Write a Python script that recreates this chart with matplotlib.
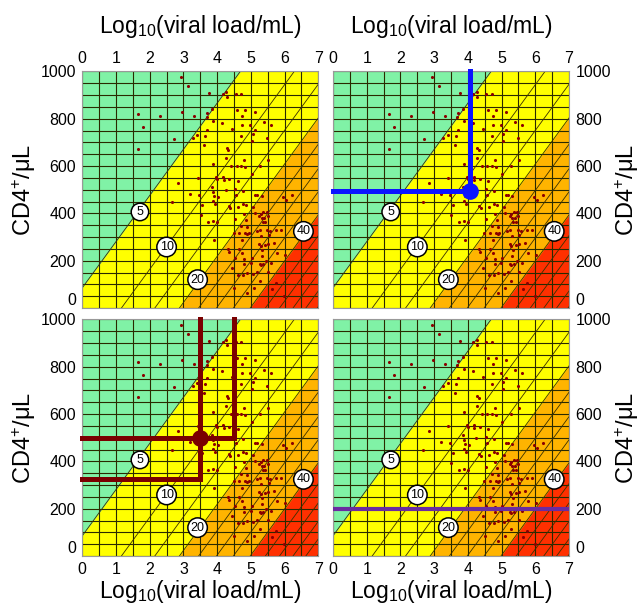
import numpy as np
import matplotlib.pyplot as plt

plt.rcParams['font.family'] = ['Liberation Sans', 'DejaVu Sans']
plt.rcParams['mathtext.default'] = 'regular'

# ------------ DATA ------------

# patients (log10 viral load, CD4 count), same cohort in every panel
LOG_VL = [2.93, 3.14, 3.77, 4.16, 4.28, 4.55, 4.70, 4.26, 1.65, 2.31, 2.97, 3.32,
          3.71, 3.69, 3.84, 1.80, 1.65, 2.71, 3.27, 3.40, 3.71, 3.64, 3.62, 3.89,
          4.14, 4.44, 4.60, 4.83, 5.12, 4.74, 4.75, 4.70, 4.97, 5.05, 5.12, 5.39,
          5.61, 5.48, 4.28, 4.32, 4.26, 4.42, 4.58, 4.71, 4.80, 4.83, 5.04, 5.52,
          5.27, 5.02, 3.87, 3.97, 4.00, 4.17, 4.19, 4.36, 4.61, 3.42, 2.85, 2.66,
          3.20, 3.46, 3.84, 3.89, 3.92, 4.02, 3.87, 3.93, 3.55, 3.51, 3.73, 3.87,
          4.00, 3.91, 4.25, 4.53, 4.57, 4.76, 4.34, 4.39, 4.62, 4.78, 4.85, 5.13,
          5.19, 5.32, 4.81, 5.06, 5.11, 5.29, 5.37, 5.24, 5.32, 5.40, 5.47, 5.50,
          5.35, 5.43, 5.26, 5.31, 5.17, 5.49, 5.57, 5.53, 5.74, 5.90, 5.96, 6.04,
          6.22, 4.54, 4.85, 4.49, 4.65, 4.72, 4.82, 4.88, 4.93, 4.88, 5.25, 5.29,
          5.33, 5.43, 5.52, 5.68, 5.79, 5.32, 5.26, 5.29, 5.36, 5.46, 5.61, 5.02,
          4.99, 4.79, 4.81, 4.74, 4.66, 4.32, 4.36, 4.45, 4.62, 4.78, 4.89, 5.07,
          5.19, 5.51, 4.50, 4.89, 5.10, 5.62, 5.99, 4.54, 4.75, 6.01, 5.74, 5.27]
CD4 = [976, 937, 910, 904, 890, 906, 906, 914, 820, 813, 828, 813,
       824, 806, 841, 763, 672, 714, 717, 730, 751, 728, 689, 792,
       782, 755, 835, 835, 828, 810, 773, 725, 775, 735, 751, 785,
       772, 718, 677, 669, 634, 601, 601, 599, 627, 596, 707, 624,
       599, 568, 610, 554, 546, 554, 539, 545, 538, 548, 527, 446,
       480, 477, 510, 490, 475, 468, 451, 439, 435, 392, 365, 368,
       362, 289, 497, 503, 479, 493, 430, 423, 427, 439, 434, 476,
       476, 475, 399, 425, 401, 399, 404, 389, 380, 379, 404, 390,
       362, 362, 331, 303, 324, 328, 324, 308, 331, 328, 468, 458,
       477, 376, 373, 317, 318, 345, 318, 314, 317, 342, 272, 261,
       246, 265, 272, 275, 232, 218, 187, 180, 187, 200, 190, 211,
       190, 207, 185, 232, 251, 249, 235, 169, 141, 141, 148, 144,
       152, 154, 85, 63, 85, 80, 49, 210, 289, 225, 106, 113]

# risk contours: parallel lines, given by the log10 VL where each one meets CD4 = 0
CONTOUR_SLOPE = 195          # CD4 per log10 unit along a contour
CONTOUR_X0 = [-0.44, 1.16, 2.15, 2.88, 3.45, 3.98, 4.48, 4.98,
              5.43, 5.85, 6.25, 6.63, 6.97]
BOUND_GREEN, BOUND_ORANGE, BOUND_RED = 0, 3, 7   # 5 %, 20 %, 40 % contours

LABEL_TEXT = ['5', '10', '20', '40']
LABEL_VL = [1.71, 2.50, 3.42, 6.56]
LABEL_CD4 = [406, 258, 120, 324]

# threshold overlays
BLUE_CORNER = (4.05, 495)
RED_CORNERS = [(4.5, 500), (3.5, 325)]
RED_POINT = (3.5, 500)
PURPLE_CD4 = 200

X_TICKS = list(range(0, 8))
Y_TICKS = list(range(0, 1001, 200))

# ------------ STYLE ------------

C_GREEN = '#80f2a6'
C_YELLOW = '#ffff00'
C_ORANGE = '#ffb400'
C_RED = '#ff3000'
C_DOT = '#8b0000'
XLABEL = r'Log$_{10}$(viral load/mL)'
YLABEL = r'CD4$^{+}$/μL'


def contour_y(xs, x0):
    return CONTOUR_SLOPE * (xs - x0)


def draw_base(ax, top, right):
    xs = np.linspace(0, 7, 50)
    ax.set_facecolor(C_RED)
    ax.fill_between(xs, contour_y(xs, CONTOUR_X0[BOUND_RED]), 1000, color=C_ORANGE, lw=0)
    ax.fill_between(xs, contour_y(xs, CONTOUR_X0[BOUND_ORANGE]), 1000, color=C_YELLOW, lw=0)
    ax.fill_between(xs, contour_y(xs, CONTOUR_X0[BOUND_GREEN]), 1000, color=C_GREEN, lw=0)

    for x0 in CONTOUR_X0:
        ax.axline((x0, 0), slope=CONTOUR_SLOPE, color='#3a3000', lw=0.6, zorder=2)

    ax.scatter(LOG_VL, CD4, s=5, color=C_DOT, lw=0, zorder=3)

    for txt, lx, ly in zip(LABEL_TEXT, LABEL_VL, LABEL_CD4):
        ax.text(lx, ly, txt, ha='center', va='center', fontsize=9, zorder=6,
                bbox=dict(boxstyle='circle,pad=0.22', fc='white', ec='black', lw=1.1))

    ax.set_xlim(0, 7)
    ax.set_ylim(0, 1000)
    ax.set_xticks(X_TICKS)
    ax.set_yticks(Y_TICKS)
    ax.set_xticks(np.arange(0, 7.01, 0.5), minor=True)
    ax.set_yticks(np.arange(0, 1001, 50), minor=True)
    ax.grid(which='both', color='#2a2a00', lw=0.8)
    ax.tick_params(which='both', length=0, labelsize=11.5)
    ax.tick_params(axis='x', pad=4)
    ax.tick_params(axis='y', pad=4.5)
    for sp in ax.spines.values():
        sp.set_color('#999999')

    if top:
        ax.xaxis.tick_top()
        ax.xaxis.set_label_position('top')
        ax.set_xlabel(XLABEL, fontsize=16.5, labelpad=13)
    else:
        ax.set_xlabel(XLABEL, fontsize=16.5, labelpad=1)
    if right:
        ax.yaxis.tick_right()
        ax.yaxis.set_label_position('right')
    ax.set_ylabel(YLABEL, fontsize=17, labelpad=2)

    # the "0" sits just above the lower edge so it clears the panel below
    for lbl in ax.get_yticklabels():
        if lbl.get_text() == '0':
            lbl.set_va('bottom')


def draw_corner(ax, corner, color):
    cx, cy = corner
    ax.plot([0, cx, cx], [cy, cy, 1000], color=color, lw=3.6,
            solid_joinstyle='miter', zorder=5, clip_on=False)


fig = plt.figure(figsize=(6.43, 6.10), dpi=100)
W, H = 0.367, 0.388
ax1 = fig.add_axes([0.128, 0.495, W, H])
ax2 = fig.add_axes([0.518, 0.495, W, H])
ax3 = fig.add_axes([0.128, 0.0885, W, H])
ax4 = fig.add_axes([0.518, 0.0885, W, H])

draw_base(ax1, top=True, right=False)
draw_base(ax2, top=True, right=True)
draw_base(ax3, top=False, right=False)
draw_base(ax4, top=False, right=True)

# panel 2: single threshold
draw_corner(ax2, BLUE_CORNER, '#0a14ff')
ax2.plot(*BLUE_CORNER, 'o', color='#0a14ff', ms=11, zorder=5)

# panel 3: two thresholds
for corner in RED_CORNERS:
    draw_corner(ax3, corner, '#7a0000')
ax3.plot(*RED_POINT, 'o', color='#7a0000', ms=11, zorder=5)

# panel 4: CD4 only
ax4.axhline(PURPLE_CD4, color='#6a2ca0', lw=3, zorder=5)

fig.savefig('out.png', dpi=100)
